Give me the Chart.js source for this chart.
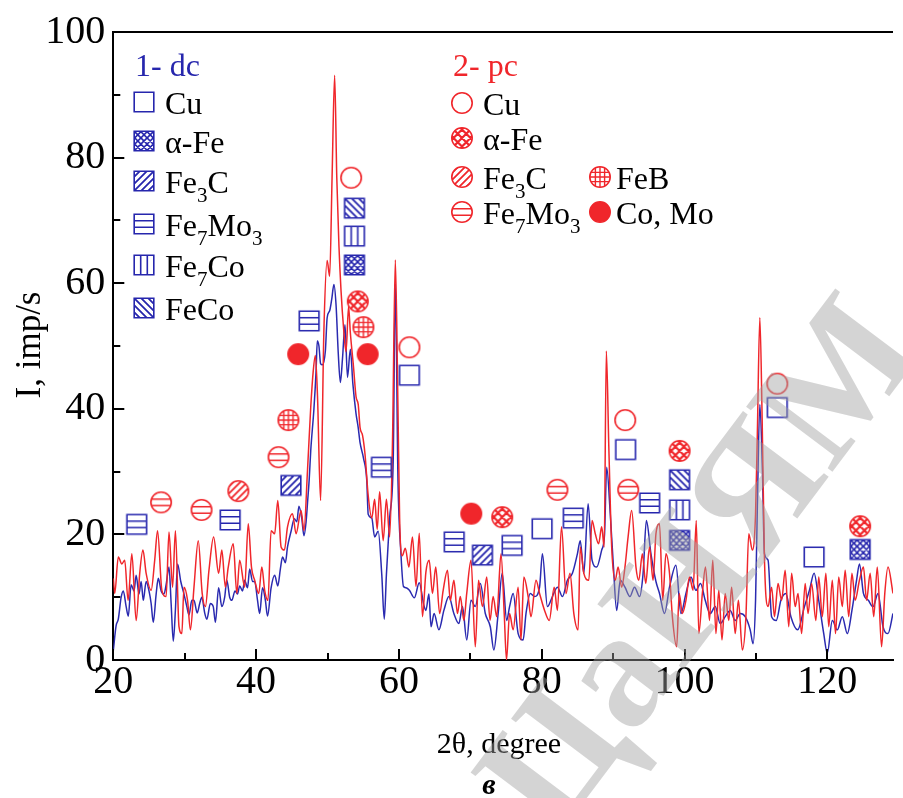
<!DOCTYPE html>
<html>
<head>
<meta charset="utf-8">
<script src="https://cdn.jsdelivr.net/npm/chart.js@4.4.1/dist/chart.umd.min.js"></script>
<style>
  html, body { margin: 0; padding: 0; background: #fff; overflow: hidden; }
  #wrap { width: 903px; height: 798px; position: relative; }
</style>
</head>
<body>
<div id="wrap"><canvas id="xrd" width="903" height="798"></canvas></div>
<script>
// ---- Diffraction scans: [2θ, intensity] ----
const dcScan = [
  [20.0,1.5],[20.4,5.5],[20.7,6.5],[21.1,10],[21.4,11],[21.8,8.5],[22.1,7],[22.5,12],[22.9,11],[23.2,13.5],
  [23.6,10.5],[23.9,12.5],[24.2,9.5],[24.6,12.5],[25.0,11],[25.3,9],[25.6,6],[26.0,10.5],[26.3,13],[26.7,11],
  [27.1,10.5],[27.4,12],[27.8,14.8],[28.1,9],[28.4,3],[28.7,8],[29.0,15.3],[29.45,12.5],[29.9,10.5],[30.3,8.5],
  [30.6,7.2],[31.0,9.5],[31.3,9.5],[31.75,7.5],[32.1,9],[32.4,10],[32.8,7.5],[33.1,6.5],[33.6,9],[34.0,8.5],
  [34.3,6],[34.75,11.5],[35.2,8.5],[35.6,10],[35.9,12.7],[36.3,10],[36.6,9.5],[37.05,11],[37.4,10.5],[37.7,11.8],
  [38.1,11],[38.4,12.7],[38.8,11.5],[39.1,14.5],[39.5,12.5],[39.8,12.5],[40.2,9.5],[40.5,7.4],[40.9,11.5],[41.3,9.5],
  [41.6,7],[42.1,11.5],[42.6,13.5],[43.04,11.8],[43.4,14.5],[43.7,16.4],[44.1,15.5],[44.4,18],[44.9,20.5],[45.35,22.5],
  [45.7,22],[46.0,24.5],[46.4,22.5],[46.7,19.8],[47.0,22],[47.2,25],[47.45,29],[47.65,33.3],[48.1,40],[48.4,46],
  [48.57,50.8],[48.8,50],[49.03,47.2],[49.3,47],[49.7,49.2],[49.95,54.5],[50.3,55.6],[50.6,57.5],[50.9,59.8],[51.2,56.5],
  [51.5,49],[51.8,44.2],[52.1,48],[52.45,53.4],[52.8,45],[53.2,49.5],[53.55,44],[54.0,39.2],[54.3,37],[54.56,34.6],
  [55.03,32.2],[55.5,28.6],[55.7,23.2],[56.2,22.6],[56.6,19.6],[57.1,20.5],[57.6,13.6],[57.95,6.5],[58.25,13.6],[58.7,22.6],
  [59.2,31.6],[59.5,60],[59.87,28.6],[60.3,16.6],[60.64,11.7],[61.0,11.5],[61.47,11.1],[62.16,9.9],[62.85,12.3],[63.5,8.7],
  [63.78,7.9],[64.2,10.5],[64.5,5.3],[64.93,7.4],[65.6,4.8],[66.3,7.9],[67.0,10.1],[67.7,7.4],[68.4,5.8],[68.9,8.5],
  [69.5,3.2],[70.1,9.5],[70.7,8.5],[71.4,12.2],[72.1,7.4],[72.8,5.3],[73.3,1.6],[73.9,7.4],[74.47,13.8],[75.1,6.3],
  [75.5,8.5],[76.0,10.6],[76.7,4.2],[77.4,3.2],[77.8,7.4],[78.4,10.6],[79.0,10.1],[79.7,11.6],[80.1,16.9],[80.8,8.5],
  [81.5,10.1],[82.2,11.6],[82.9,10.1],[83.6,12.7],[84.3,13.8],[85.0,16.9],[85.4,19.0],[85.9,13.8],[86.5,24.9],[87.05,15.9],
  [87.7,14.8],[88.4,17.5],[88.8,20],[89.1,30.7],[89.6,23.3],[90.05,14.8],[90.5,7.9],[91.0,12.7],[91.66,11.6],[92.35,10.1],
  [93.0,11.6],[93.7,10.1],[94.2,13.8],[94.66,22.2],[95.3,16.9],[96.0,12.5],[96.5,10.6],[97.2,7.4],[97.9,11.6],[98.8,15.1],
  [99.5,7.4],[100.2,10.6],[100.9,13.2],[101.6,11.1],[102.25,12.2],[102.9,9.5],[103.6,7.4],[104.3,8.5],[105.0,5.8],[105.7,6.9],
  [106.4,7.9],[107.1,6.3],[107.8,7.4],[108.5,6.9],[109.2,4.8],[109.6,2.6],[109.95,9.5],[110.2,24.3],[110.55,40.7],[110.9,30.7],
  [111.2,16.9],[111.7,15.9],[112.2,6.9],[112.85,6.3],[113.5,9.5],[114.2,10.6],[114.9,6.9],[115.85,4.8],[116.8,8.5],[117.5,11.1],
  [118.15,13.8],[118.8,9.5],[119.5,4.2],[120.0,1.1],[120.7,6.3],[121.4,4.8],[122.1,6.9],[122.8,4.2],[123.45,7.9],[124.1,12.7],
  [124.5,15.3],[125.06,10.6],[125.75,9.5],[126.4,8.5],[127.1,10.6],[127.8,5.3],[128.5,4.2],[129.2,7.4]
];

const pcScan = [
  [20.0,13],[20.2,10.6],[20.7,16.4],[21.2,15.3],[21.6,15.9],[22.07,9.5],[22.6,16.9],[23.2,6.3],[23.7,13.8],[24.15,17.5],
  [24.6,13.8],[25.3,11.1],[25.8,15.9],[26.2,20.6],[26.8,11.1],[27.4,10.1],[27.8,20.4],[28.3,11.6],[28.7,20.6],[29.2,5.3],
  [29.6,4.2],[29.9,11.6],[30.4,9.5],[30.8,4.8],[31.3,11.6],[31.9,19.0],[32.45,10.6],[32.9,8.5],[33.4,14.3],[34.05,19.6],
  [34.75,13.8],[35.2,17.5],[35.7,11.6],[36.1,14.8],[36.8,18.5],[37.3,10.6],[37.7,15.9],[38.4,11.6],[38.9,21.7],[39.35,14.8],
  [39.8,12.7],[40.37,10.6],[40.8,14.8],[41.2,11.1],[41.66,9.5],[42.1,20.6],[42.6,20.1],[43.04,25.4],[43.5,18.0],[43.96,17.5],
  [44.4,21.2],[45.1,23.3],[45.6,20.1],[46.3,23.8],[46.7,20.6],[47.2,30.2],[47.65,40.2],[48.0,46],[48.3,48.5],[48.6,42],
  [49.03,25.4],[49.5,52.7],[49.95,63.6],[50.3,61.1],[50.64,76.8],[51.0,93.1],[51.3,76.8],[51.6,66],[51.9,58.7],[52.26,52.7],
  [52.6,49.1],[52.95,56.3],[53.2,52.1],[53.64,46.7],[54.0,41.9],[54.3,40.7],[54.56,37.0],[54.9,35.8],[55.25,32.8],[55.7,26.2],
  [56.2,22.6],[56.6,25.6],[56.96,20.8],[57.3,26.8],[57.8,19.0],[58.25,25.6],[58.7,19.6],[59.1,34.6],[59.5,63.7],[59.86,40.7],
  [60.1,22.6],[60.46,16.6],[60.9,17.8],[61.4,14.8],[61.9,19.6],[62.4,11.7],[62.85,20.2],[63.3,6.9],[63.78,14],[64.24,15.9],
  [64.7,10.6],[65.16,14.8],[65.7,7.4],[66.2,11.1],[66.8,14.3],[67.2,9.5],[67.7,12.7],[68.2,7.4],[68.6,10.1],[69.1,6.3],
  [69.5,10.6],[70.1,15.9],[70.7,2.1],[71.15,12.7],[71.7,8.5],[72.3,13.2],[72.76,6.3],[73.2,10.1],[73.7,6.9],[74.3,16.9],
  [74.75,7.4],[75.07,0],[75.5,7.4],[76.0,4.8],[76.7,11.6],[77.1,3.2],[77.5,13.2],[78.1,10.1],[78.5,6.9],[79.2,12.7],
  [79.7,10.6],[80.4,7.9],[81.06,6.3],[81.75,11.6],[82.2,7.9],[82.77,21.2],[83.4,10.6],[83.96,13.8],[84.5,7.4],[85.1,4.8],
  [85.4,18.0],[85.9,13.8],[86.6,12.7],[87.05,22.2],[87.5,20.1],[87.97,18.5],[88.4,21.2],[88.75,18.0],[89.05,49.2],[89.4,33.9],
  [89.8,18.0],[90.3,12.7],[90.7,14.8],[91.2,11.6],[91.66,14.8],[92.1,19.6],[92.6,23.8],[93.2,14.8],[93.6,12.7],[94.1,16.9],
  [94.57,12.2],[95.1,18.0],[95.6,12.7],[96.0,20.1],[96.5,21.7],[96.95,9.5],[97.4,16.9],[97.9,13.8],[98.3,6.9],[98.9,2.1],
  [99.26,10.6],[99.7,7.4],[100.2,9.5],[100.7,13.2],[101.2,11.1],[101.65,22.2],[102.0,4.2],[102.5,10.6],[102.94,14.8],[103.5,6.3],
  [103.96,15.9],[104.4,4.2],[104.8,11.1],[105.25,3.2],[105.7,10.6],[106.2,6.3],[106.6,11.6],[107.1,4.2],[107.55,9.5],[108.1,1.6],
  [108.6,6.9],[109.0,20.1],[109.5,17.5],[109.95,23.3],[110.2,36.0],[110.55,54.5],[110.87,38.6],[111.2,15.9],[111.7,8.5],[112.2,11.6],
  [112.6,6.9],[113.1,12.2],[113.6,9.5],[114.1,14.3],[114.6,5.3],[115.0,13.8],[115.5,8.5],[115.9,10.6],[116.4,4.2],[116.9,12.2],
  [117.3,7.4],[117.8,12.2],[118.4,6.3],[118.8,13.2],[119.3,6.9],[119.8,13.8],[120.2,5.3],[120.7,12.7],[121.15,4.2],[121.6,13.2],
  [122.1,8.5],[122.5,14.3],[123.0,6.9],[123.45,13.8],[123.9,9.5],[124.5,12.7],[125.06,14.8],[125.5,9.5],[126.0,13.8],[126.5,6.9],
  [127.0,14.8],[127.6,2.1],[128.05,10.6],[128.5,14.8],[129.2,10.6]
];

// ---- Phase reflections, sample 1 (dc) ----
const dcCu     = [[61.47,45.35],[80.05,20.9],[91.75,33.5],[112.99,40.2],[118.15,16.4]];
const dcAlphaFe = [[53.78,62.9],[99.31,19.05],[124.6,17.6]];
const dcFe3C   = [[44.88,27.8],[71.7,16.7]];
const dcFe7Mo3 = [[23.28,21.6],[36.37,22.3],[47.43,54.0],[57.56,30.7],[67.75,18.8],[75.85,18.25],[84.42,22.6],[95.12,25.0]];
const dcFe7Co  = [[53.78,67.5],[99.31,23.9]];
const dcFeCo   = [[53.78,71.95],[99.31,28.7]];

// ---- Phase reflections, sample 2 (pc) ----
const pcCu     = [[53.31,76.8],[61.47,49.8],[91.7,38.2],[112.99,44.0]];
const pcAlphaFe = [[54.24,57.1],[74.47,22.75],[99.31,33.3],[124.6,21.3]];
const pcFe3C   = [[37.51,26.9]];
const pcFe7Mo3 = [[26.69,25.1],[32.36,23.9],[43.14,32.3],[82.2,27.1],[92.12,27.1]];
const pcFeB    = [[44.52,38.2],[55.03,53.0]];
const pcCoMo   = [[45.9,48.7],[55.62,48.7],[70.14,23.3]];

// ---- Axes ----
const xTickValues = [20, 30, 40, 50, 60, 70, 80, 90, 100, 110, 120];
const yTickValues = [0, 10, 20, 30, 40, 50, 60, 70, 80, 90, 100];

const BLUE = '#2626ad';
const BLUE_LINE = '#2a2ab0';
const RED = '#f0262b';
const SERIF = '"Liberation Serif", "Times New Roman", serif';

// Hatched symbol sprites used as point styles
function symbol(shape, pattern, color) {
  const S = 26, c = document.createElement('canvas');
  c.width = S; c.height = S;
  const g = c.getContext('2d');
  const cx = S / 2, cy = S / 2, h = 9.8;
  const outline = () => {
    g.beginPath();
    if (shape === 'square') g.rect(cx - h, cy - h, 2 * h, 2 * h);
    else g.arc(cx, cy, h + 0.4, 0, Math.PI * 2);
  };
  g.strokeStyle = color; g.fillStyle = color;
  g.save(); outline(); g.clip();
  g.beginPath();
  const diag = (dir, d) => {
    for (let n = -8; n <= 8; n++) {
      if (dir > 0) { const b = cx + cy + n * d; g.moveTo(-S, b + S); g.lineTo(2 * S, b - 2 * S); }
      else { const b = cy - cx + n * d; g.moveTo(-S, b - S); g.lineTo(2 * S, b + 2 * S); }
    }
  };
  const hl = (offs) => offs.forEach(o => { g.moveTo(0, cy + o); g.lineTo(S, cy + o); });
  const vl = (offs) => offs.forEach(o => { g.moveTo(cx + o, 0); g.lineTo(cx + o, S); });
  switch (pattern) {
    case 'fill': g.fillRect(0, 0, S, S); break;
    case 'fwd': g.lineWidth = 1.8; diag(1, 7); break;
    case 'back': g.lineWidth = 1.8; diag(-1, 7); break;
    case 'cross': g.lineWidth = shape === 'square' ? 1.6 : 2.2; diag(1, shape === 'square' ? 6.2 : 8.5); diag(-1, shape === 'square' ? 6.2 : 8.5); break;
    case 'h': g.lineWidth = 1.6; hl([-3.3, 3.3]); break;
    case 'v': g.lineWidth = 1.6; vl([-3.3, 3.3]); break;
    case 'grid': g.lineWidth = 1.4; hl([-4.6, 0, 4.6]); vl([-4.6, 0, 4.6]); break;
  }
  g.stroke();
  g.restore();
  g.lineWidth = 1.6;
  outline(); g.stroke();
  return c;
}

const sym = {
  dcCu: symbol('square', 'none', BLUE),
  dcAlphaFe: symbol('square', 'cross', BLUE),
  dcFe3C: symbol('square', 'fwd', BLUE),
  dcFe7Mo3: symbol('square', 'h', BLUE),
  dcFe7Co: symbol('square', 'v', BLUE),
  dcFeCo: symbol('square', 'back', BLUE),
  pcCu: symbol('circle', 'none', RED),
  pcAlphaFe: symbol('circle', 'cross', RED),
  pcFe3C: symbol('circle', 'fwd', RED),
  pcFe7Mo3: symbol('circle', 'h', RED),
  pcFeB: symbol('circle', 'grid', RED),
  pcCoMo: symbol('circle', 'fill', RED)
};

const toXY = arr => arr.map(([x, y]) => ({ x, y }));
const markerSet = (pts, key) => ({
  type: 'scatter', data: toXY(pts), pointStyle: sym[key], pointRadius: 10,
  borderWidth: 0, order: 0
});

// Legend rows: text pieces, '_' marks a subscript
const legendDc = [['dcCu', 'Cu'], ['dcAlphaFe', 'α-Fe'], ['dcFe3C', 'Fe_3C'], ['dcFe7Mo3', 'Fe_7Mo_3'], ['dcFe7Co', 'Fe_7Co'], ['dcFeCo', 'FeCo']];
const legendPc = [['pcCu', 'Cu'], ['pcAlphaFe', 'α-Fe'], ['pcFe3C', 'Fe_3C'], ['pcFe7Mo3', 'Fe_7Mo_3']];
const legendPcExtra = [['pcFeB', 'FeB'], ['pcCoMo', 'Co, Mo']];

function richText(ctx, text, x, y, size, color) {
  ctx.fillStyle = color;
  ctx.textAlign = 'left';
  ctx.textBaseline = 'alphabetic';
  const parts = text.split(/(_\d)/).filter(Boolean);
  let cx = x;
  for (const p of parts) {
    if (p[0] === '_') {
      ctx.font = `${Math.round(size * 0.66)}px ${SERIF}`;
      ctx.fillText(p.slice(1), cx, y + size * 0.3);
      cx += ctx.measureText(p.slice(1)).width;
    } else {
      ctx.font = `${size}px ${SERIF}`;
      ctx.fillText(p, cx, y);
      cx += ctx.measureText(p).width;
    }
  }
}

const decor = {
  id: 'decor',
  afterDraw(chart) {
    const { ctx, chartArea: a, scales: { x, y } } = chart;
    ctx.save();
    // frame top edge and inward tick marks
    ctx.strokeStyle = '#000';
    ctx.lineWidth = 2;
    ctx.beginPath();
    ctx.moveTo(a.left - 1, a.top); ctx.lineTo(a.right, a.top);
    xTickValues.forEach(v => {
      const px = Math.round(x.getPixelForValue(v));
      const len = v % 20 === 0 ? 11 : 7;
      ctx.moveTo(px, a.bottom); ctx.lineTo(px, a.bottom - len);
    });
    yTickValues.forEach(v => {
      const py = Math.round(y.getPixelForValue(v));
      const len = v % 20 === 0 ? 11 : 7;
      ctx.moveTo(a.left, py); ctx.lineTo(a.left + len, py);
    });
    ctx.stroke();

    // legends
    const FS = 32;
    richText(ctx, '1- dc', 135, 76, FS, BLUE);
    const rowsDc = [102, 141, 181, 224, 265, 308];
    legendDc.forEach(([k, t], i) => {
      ctx.drawImage(sym[k], 144 - 13, rowsDc[i] - 13);
      richText(ctx, t, 165, rowsDc[i] + 11.5, FS, '#000');
    });
    richText(ctx, '2- pc', 453, 76, FS, RED);
    const rowsPc = [103, 138, 177, 212];
    legendPc.forEach(([k, t], i) => {
      ctx.drawImage(sym[k], 462 - 13, rowsPc[i] - 13);
      richText(ctx, t, 483, rowsPc[i] + 11.5, FS, '#000');
    });
    const rowsPcX = [177, 212];
    legendPcExtra.forEach(([k, t], i) => {
      ctx.drawImage(sym[k], 600 - 13, rowsPcX[i] - 13);
      richText(ctx, t, 616, rowsPcX[i] + 11.5, FS, '#000');
    });

    // axis titles
    ctx.fillStyle = '#000';
    ctx.font = `30px ${SERIF}`;
    ctx.textAlign = 'center';
    ctx.textBaseline = 'middle';
    ctx.fillText('2θ, degree', 499, 745);
    ctx.font = `italic bold 30px ${SERIF}`;
    ctx.fillText('в', 489, 786);
    ctx.save();
    ctx.translate(31, 345);
    ctx.rotate(-Math.PI / 2);
    ctx.font = `35px ${SERIF}`;
    ctx.fillText('I, imp/s', 0, 0);
    ctx.restore();

    // watermark
    ctx.save();
    ctx.translate(555, 840);
    ctx.rotate(-53 * Math.PI / 180);
    ctx.globalAlpha = 0.45;
    ctx.fillStyle = '#a0a0a0';
    ctx.font = `bold 165px ${SERIF}`;
    ctx.textAlign = 'left';
    ctx.textBaseline = 'alphabetic';
    ctx.fillText('ЦаНЯМ', 0, 0);
    ctx.restore();

    ctx.restore();
  }
};

new Chart(document.getElementById('xrd'), {
  type: 'scatter',
  data: {
    datasets: [
      markerSet(dcCu, 'dcCu'), markerSet(dcAlphaFe, 'dcAlphaFe'), markerSet(dcFe3C, 'dcFe3C'),
      markerSet(dcFe7Mo3, 'dcFe7Mo3'), markerSet(dcFe7Co, 'dcFe7Co'), markerSet(dcFeCo, 'dcFeCo'),
      markerSet(pcCu, 'pcCu'), markerSet(pcAlphaFe, 'pcAlphaFe'), markerSet(pcFe3C, 'pcFe3C'),
      markerSet(pcFe7Mo3, 'pcFe7Mo3'), markerSet(pcFeB, 'pcFeB'), markerSet(pcCoMo, 'pcCoMo'),
      { type: 'line', label: '2- pc', data: toXY(pcScan), borderColor: RED, borderWidth: 1.5,
        pointRadius: 0, cubicInterpolationMode: 'monotone', fill: false, order: 1 },
      { type: 'line', label: '1- dc', data: toXY(dcScan), borderColor: BLUE_LINE, borderWidth: 1.5,
        pointRadius: 0, cubicInterpolationMode: 'monotone', fill: false, order: 2 }
    ]
  },
  options: {
    responsive: false,
    animation: false,
    devicePixelRatio: 1,
    layout: { padding: { top: 30, right: 0, left: 0, bottom: 0 } },
    plugins: { legend: { display: false }, tooltip: { enabled: false } },
    scales: {
      x: {
        type: 'linear', min: 20, max: 129.2,
        afterBuildTicks: s => { s.ticks = xTickValues.map(v => ({ value: v })); },
        afterFit: s => { s.height = 138; },
        grid: { display: false, drawTicks: false },
        border: { display: true, color: '#000', width: 2 },
        ticks: { autoSkip: false, maxRotation: 0, padding: -2, color: '#000',
          font: { family: SERIF, size: 40 },
          callback: v => (v % 20 === 0 ? String(v) : '') }
      },
      y: {
        type: 'linear', min: 0, max: 100,
        afterBuildTicks: s => { s.ticks = yTickValues.map(v => ({ value: v })); },
        afterFit: s => { s.width = 113.3; },
        grid: { display: false, drawTicks: false },
        border: { display: true, color: '#000', width: 2 },
        ticks: { autoSkip: false, padding: 8, color: '#000',
          font: { family: SERIF, size: 40 },
          callback: v => (v % 20 === 0 ? String(v) : '') }
      }
    }
  },
  plugins: [decor]
});
</script>
</body>
</html>
